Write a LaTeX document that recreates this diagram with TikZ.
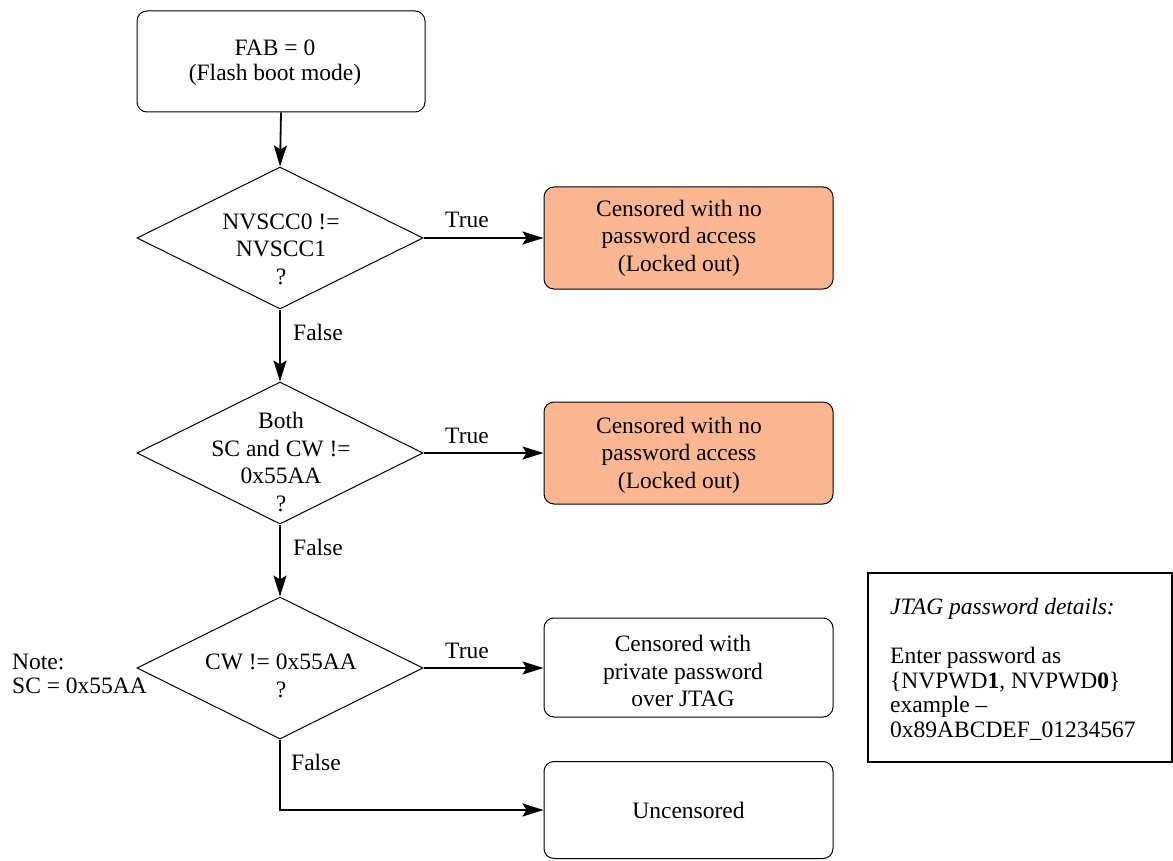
\documentclass[tikz,border=0pt]{standalone}
\usepackage{fontspec}
\setmainfont{Liberation Serif}
\usetikzlibrary{shapes.geometric,arrows.meta}
\definecolor{salmon}{RGB}{252,182,146}
\begin{document}
\begin{tikzpicture}[x=1pt,y=-1pt,
  every node/.style={font=\fontsize{23.5}{27.5}\selectfont, inner sep=0pt},
  rbox/.style={draw, rounded corners=10pt, line width=1pt, minimum width=289pt, minimum height=101pt},
  lockbox/.style={rbox, fill=salmon},
  dia/.style={draw, diamond, line width=1pt, minimum width=286pt, minimum height=142pt},
  conn/.style={line width=1.8pt, -{Stealth[length=21pt,width=13pt,inset=4pt]}},
  lbl/.style={align=center},
]
\useasboundingbox (0,0) rectangle (1173,861);

% shapes
\node[rbox, minimum width=288pt] (top) at (281,61.5) {};
\node[lbl, font=\fontsize{23.5}{25}\selectfont] (toptxt) at (275,63) {FAB = 0\\(Flash boot mode)};

\node[dia] (d1) at (280,238) {};
\node[lbl] (d1txt) at (281,249) {NVSCC0 !=\\NVSCC1\\?};
\node[lockbox, minimum height=102pt] (r1) at (688.5,238) {};
\node[lbl] (r1txt) at (679,238) {Censored with no\\password access\\(Locked out)};

\node[dia] (d2) at (280,453) {};
\node[lbl] (d2txt) at (281,462) {Both\\SC and CW !=\\0x55AA\\?};
\node[lockbox, minimum height=102pt] (r2) at (688.5,453) {};
\node[lbl] (r2txt) at (679,455) {Censored with no\\password access\\(Locked out)};

\node[dia] (d3) at (280,668) {};
\node[lbl] (d3txt) at (281,676) {CW != 0x55AA\\?};
\node[rbox, minimum height=99pt] (b3) at (688.5,667.5) {};
\node[lbl] (b3txt) at (683,671) {Censored with\\private password\\over JTAG};

\node[rbox, minimum height=97pt] (unc) at (688.5,810) {Uncensored};

\node[align=left, anchor=west, font=\fontsize{23.5}{24}\selectfont] (note) at (12,674) {Note:\\SC = 0x55AA};

\node[draw, line width=1.5pt, minimum width=304pt, minimum height=189pt] (jbox) at (1020,667.5) {};
\node[anchor=west, font=\fontsize{23.5}{27.5}\itshape] (jhead) at (890,609) {JTAG password details:};
\node[anchor=west, align=left, font=\fontsize{23.5}{24.5}\selectfont] (jbody) at (890,694) {Enter password as\\\{NVPWD\textbf{1}, NVPWD\textbf{0}\}\\example --\\0x89ABCDEF\_01234567};

% connectors
\draw[conn] (top.south) -- (d1.north);
\draw[conn] (d1.east) -- (r1.west);
\draw[conn] (d1.south) -- (d2.north);
\draw[conn] (d2.east) -- (r2.west);
\draw[conn] (d2.south) -- (d3.north);
\draw[conn] (d3.east) -- (b3.west |- d3.east);
\draw[conn] (d3.south) |- (unc.west);

% labels
\node (t1) at (467,220) {True};
\node (f1) at (318,332) {False};
\node (t2) at (467,436) {True};
\node (f2) at (318,547) {False};
\node (t3) at (467,651) {True};
\node (f3) at (316,762) {False};
\end{tikzpicture}
\end{document}
